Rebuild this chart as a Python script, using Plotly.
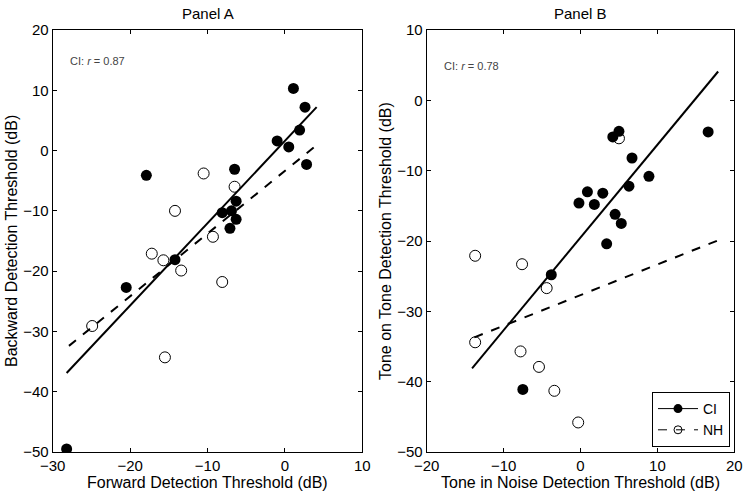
import plotly.graph_objects as go

# Panel A data
a_ci_x = [1.1, 2.6, 1.9, -1.0, 0.5, 2.8, -17.9, -6.5, -6.3, -8.1, -6.9, -6.3, -7.1, -20.5, -28.2, -14.2]
a_ci_y = [10.3, 7.2, 3.4, 1.6, 0.6, -2.3, -4.1, -3.1, -8.4, -10.3, -10.0, -11.4, -12.9, -22.7, -49.5, -18.1]
a_nh_x = [-10.5, -6.5, -14.2, -9.3, -17.2, -15.7, -13.4, -8.1, -24.9, -15.5]
a_nh_y = [-3.8, -6.0, -10.0, -14.3, -17.1, -18.2, -19.9, -21.8, -29.1, -34.3]
a_fit_ci_x = [-28.2, 4.1]
a_fit_ci_y = [-36.9, 7.2]
a_fit_nh_x = [-27.9, 4.1]
a_fit_nh_y = [-32.4, 0.9]

# Panel B data
b_ci_x = [16.6, 5.0, 4.2, 6.7, 8.9, 6.3, 0.9, 2.9, -0.2, 1.8, 4.5, 5.3, 3.4, -3.8, -7.5]
b_ci_y = [-4.5, -4.4, -5.2, -8.2, -10.8, -12.2, -13.0, -13.2, -14.6, -14.8, -16.2, -17.5, -20.4, -24.8, -41.1]
b_nh_x = [5.0, -13.7, -7.6, -4.4, -13.7, -7.8, -5.4, -3.4, -0.3]
b_nh_y = [-5.4, -22.1, -23.3, -26.7, -34.4, -35.7, -37.9, -41.3, -45.8]
b_fit_ci_x = [-14.1, 17.9]
b_fit_ci_y = [-38.1, 4.1]
b_fit_nh_x = [-13.8, 17.9]
b_fit_nh_y = [-33.7, -19.9]

panel_titles = ["Panel A", "Panel B"]
x_titles = ["Forward Detection Threshold (dB)", "Tone in Noise Detection Threshold (dB)"]
y_titles = ["Backward Detection Threshold (dB)", "Tone on Tone Detection Threshold (dB)"]
r_labels = ["0.87", "0.78"]

FONT = "Liberation Sans, Arial, sans-serif"
fig = go.Figure()

def add_panel(xa, ya, cix, ciy, nhx, nhy, fcx, fcy, fnx, fny):
    fig.add_trace(go.Scatter(x=fcx, y=fcy, mode="lines", line=dict(color="black", width=2),
                             xaxis=xa, yaxis=ya, showlegend=False))
    fig.add_trace(go.Scatter(x=fnx, y=fny, mode="lines", line=dict(color="black", width=2, dash="dash"),
                             xaxis=xa, yaxis=ya, showlegend=False))
    fig.add_trace(go.Scatter(x=nhx, y=nhy, mode="markers",
                             marker=dict(symbol="circle-open", size=11, color="black", line=dict(width=1)),
                             xaxis=xa, yaxis=ya, showlegend=False))
    fig.add_trace(go.Scatter(x=cix, y=ciy, mode="markers",
                             marker=dict(symbol="circle", size=11, color="black"),
                             xaxis=xa, yaxis=ya, showlegend=False))

add_panel("x", "y", a_ci_x, a_ci_y, a_nh_x, a_nh_y, a_fit_ci_x, a_fit_ci_y, a_fit_nh_x, a_fit_nh_y)
add_panel("x2", "y2", b_ci_x, b_ci_y, b_nh_x, b_nh_y, b_fit_ci_x, b_fit_ci_y, b_fit_nh_x, b_fit_nh_y)

# legend entries
fig.add_trace(go.Scatter(x=[None], y=[None], mode="lines+markers", name="CI",
                         line=dict(color="black", width=1),
                         marker=dict(symbol="circle", size=9, color="black"),
                         xaxis="x2", yaxis="y2"))
fig.add_trace(go.Scatter(x=[None], y=[None], mode="lines+markers", name="NH",
                         line=dict(color="black", width=1, dash="dash"),
                         marker=dict(symbol="circle-open", size=8, color="black"),
                         xaxis="x2", yaxis="y2"))

axis_common = dict(showline=True, linecolor="black", linewidth=1, mirror="allticks",
                   ticks="inside", ticklen=4, tickcolor="black", showgrid=False, zeroline=False,
                   automargin=False,
                   tickfont=dict(size=15, color="black", family=FONT))

W, H = 750, 495
XD1 = [52.7 / W, 362.3 / W]
XD2 = [426.7 / W, 734.3 / W]

def ytitle(text, xpix):
    return dict(text=text, x=xpix / W, y=0.5, xref="paper", yref="paper", textangle=-90,
                xanchor="center", yanchor="middle", showarrow=False,
                font=dict(size=16, color="black", family=FONT))

fig.update_layout(
    width=W, height=H,
    margin=dict(l=0, r=0, t=30, b=43),
    paper_bgcolor="white", plot_bgcolor="white",
    font=dict(family=FONT, color="black"),
    xaxis=dict(domain=XD1, range=[-30, 10], dtick=10, anchor="y", **axis_common),
    yaxis=dict(domain=[0, 1], range=[-50, 20], dtick=10, anchor="x", **axis_common),
    xaxis2=dict(domain=XD2, range=[-20, 20], dtick=10, anchor="y2", **axis_common),
    yaxis2=dict(domain=[0, 1], range=[-50, 10], dtick=10, anchor="x2", **axis_common),
    legend=dict(x=730 / W, y=(452 - 447) / 422, xanchor="right", yanchor="bottom",
                bordercolor="black", borderwidth=1, bgcolor="white",
                font=dict(size=14, color="black", family=FONT),
                itemwidth=40, tracegroupgap=0),
    annotations=[
        dict(text=panel_titles[0], x=sum(XD1) / 2, y=1.0, xref="paper", yref="paper",
             xanchor="center", yanchor="middle", yshift=17, showarrow=False,
             font=dict(size=15, color="black", family=FONT)),
        dict(text=panel_titles[1], x=sum(XD2) / 2, y=1.0, xref="paper", yref="paper",
             xanchor="center", yanchor="middle", yshift=17, showarrow=False,
             font=dict(size=15, color="black", family=FONT)),
        dict(text=x_titles[0], x=sum(XD1) / 2, y=0, xref="paper", yref="paper",
             xanchor="center", yanchor="middle", yshift=-30, showarrow=False,
             font=dict(size=16, color="black", family=FONT)),
        dict(text=x_titles[1], x=sum(XD2) / 2, y=0, xref="paper", yref="paper",
             xanchor="center", yanchor="middle", yshift=-30, showarrow=False,
             font=dict(size=16, color="black", family=FONT)),
        ytitle(y_titles[0], 11),
        ytitle(y_titles[1], 385),
        dict(text="CI: <i>r</i> = " + r_labels[0], x=0.05, y=0.927, xref="x domain", yref="y domain",
             xanchor="left", yanchor="middle", showarrow=False,
             font=dict(size=11, color="#444444", family=FONT)),
        dict(text="CI: <i>r</i> = " + r_labels[1], x=0.049, y=0.915, xref="x2 domain", yref="y2 domain",
             xanchor="left", yanchor="middle", showarrow=False,
             font=dict(size=11, color="#444444", family=FONT)),
    ],
)

fig.write_html("out.html", config={"displayModeBar": False},
               post_script="document.body.style.margin='0';")
